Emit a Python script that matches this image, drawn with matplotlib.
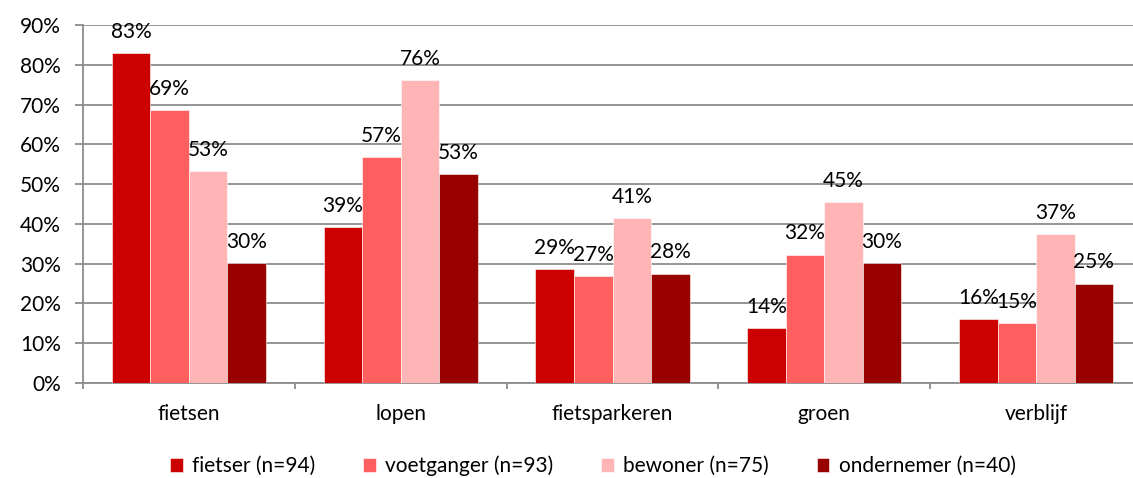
import numpy as np
import matplotlib
matplotlib.use("Agg")
import matplotlib.pyplot as plt
from matplotlib.ticker import FuncFormatter

CATEGORIES = ["fietsen", "lopen", "fietsparkeren", "groen", "verblijf"]
SERIES = ["fietser (n=94)", "voetganger (n=93)", "bewoner (n=75)", "ondernemer (n=40)"]
FIETSER = [82.9, 39.2, 28.6, 13.8, 16.1]
VOETGANGER = [68.7, 56.8, 26.9, 32.3, 15.1]
BEWONER = [53.3, 76.1, 41.4, 45.4, 37.4]
ONDERNEMER = [30.1, 52.6, 27.5, 30.1, 25.0]
COLORS = ["#CC0000", "#FF5F5F", "#FFB5B5", "#990000"]

plt.rcParams["font.family"] = ["Lato", "DejaVu Sans"]
FS = 15

W, H = 1133, 478
fig = plt.figure(figsize=(W / 100, H / 100), dpi=100)
# plot area runs past the right edge, as in the reference
ax = fig.add_axes([83 / W, 1 - 383 / H, (1142 - 83) / W, (383 - 25) / H])

values = [FIETSER, VOETGANGER, BEWONER, ONDERNEMER]
x = np.arange(len(CATEGORIES))
bw = 1 / (4 + 1.5)
for i, (vals, name, col) in enumerate(zip(values, SERIES, COLORS)):
    pos = x + (i - 1.5) * bw
    ax.bar(pos, vals, width=bw, color=col, label=name, zorder=3,
           edgecolor="white", linewidth=0.4)
    for xp, v in zip(pos, vals):
        ax.annotate(f"{round(v)}%", (xp, v), xytext=(0, 8), textcoords="offset points",
                    ha="center", va="bottom", fontsize=FS)

ax.set_xlim(-0.5, len(CATEGORIES) - 0.5)
ax.set_ylim(0, 90)
ax.set_yticks(np.arange(0, 91, 10))
ax.yaxis.set_major_formatter(FuncFormatter(lambda v, p: f"{v:.0f}%"))
ax.yaxis.grid(True, color="#8c8c8c", linewidth=1.3, zorder=0)
ax.set_xticks(x)
ax.set_xticklabels(CATEGORIES)
ax.set_xticks(np.arange(-0.5, len(CATEGORIES)), minor=True)
ax.tick_params(axis="x", which="major", length=0, labelsize=FS, pad=15)
ax.tick_params(axis="x", which="minor", length=4.3, color="#8c8c8c", width=1.3)
ax.tick_params(axis="y", length=5.8, color="#8c8c8c", width=1.3, labelsize=FS, pad=10)
for s in ["top", "right"]:
    ax.spines[s].set_visible(False)
for s in ["left", "bottom"]:
    ax.spines[s].set_color("#8c8c8c")
    ax.spines[s].set_linewidth(1.3)

fig.legend(loc="center", bbox_to_anchor=(593 / W, 1 - 466 / H), ncol=4, frameon=False,
           fontsize=FS, handlelength=0.6, handleheight=0.6, handletextpad=0.45,
           columnspacing=2.3)

fig.savefig("out.png", dpi=100)
